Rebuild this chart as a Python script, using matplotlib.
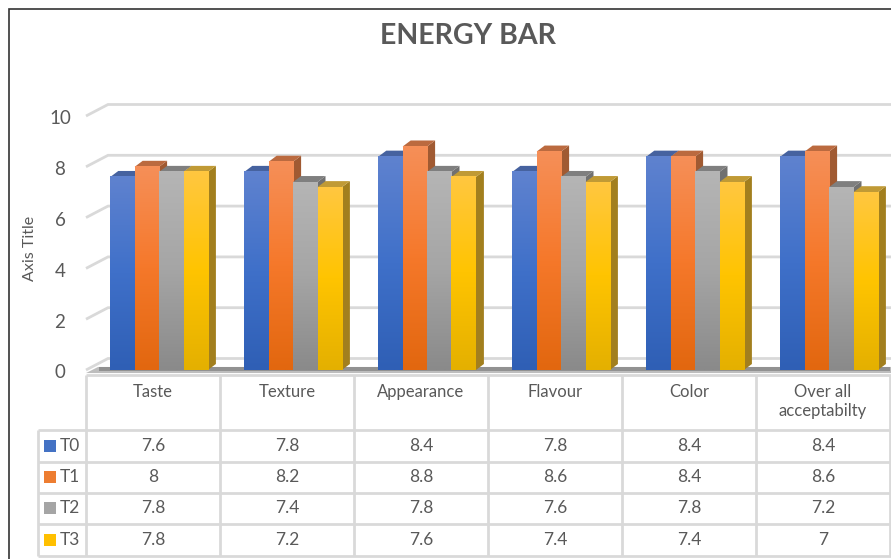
import matplotlib
matplotlib.use("Agg")
import matplotlib.pyplot as plt
import numpy as np
from matplotlib.colors import LinearSegmentedColormap
from matplotlib.patches import Polygon, Rectangle

plt.rcParams["font.family"] = ["Lato", "DejaVu Sans"]

CATEGORIES = ["Taste", "Texture", "Appearance", "Flavour", "Color", "Over all\nacceptabilty"]
SERIES_NAMES = ["T0", "T1", "T2", "T3"]
T0 = [7.6, 7.8, 8.4, 7.8, 8.4, 8.4]
T1 = [8, 8.2, 8.8, 8.6, 8.4, 8.6]
T2 = [7.8, 7.4, 7.8, 7.6, 7.8, 7.2]
T3 = [7.8, 7.2, 7.6, 7.4, 7.4, 7]
Y_TICKS = [0, 2, 4, 6, 8, 10]
TITLE = "ENERGY BAR"
Y_LABEL = "Axis Title"

# top, middle and bottom colours of each bar's front face
FRONT = [("#5f82cf", "#3f70c9", "#2f5fb5"),
         ("#f68f58", "#f5782a", "#e2670f"),
         ("#b5b5b5", "#a5a5a5", "#8a8a8a"),
         ("#ffc740", "#ffc400", "#e4b000")]
TOP = ["#46629f", "#bb6a3f", "#7f7f7f", "#c09a35"]
SIDE = ["#2d4f8e", "#a05a32", "#707070", "#a27f1e"]
KEY = ["#4472c4", "#ed7d31", "#a5a5a5", "#ffc000"]
GRID = "#d9d9d9"
TEXT = "#595959"

W, H = 891, 559
fig = plt.figure(figsize=(W / 100, H / 100), dpi=100, facecolor="white")

# Overlay spanning the figure, in pixel units, for frame, table and labels
page = fig.add_axes([0, 0, 1, 1], zorder=1)
page.set_xlim(0, W)
page.set_ylim(H, 0)
page.axis("off")
page.patch.set_alpha(0)

# Plot axes: front plane of the 3-D bars
X0, X1, Y0, Y10 = 86, 890, 370, 116
ax = fig.add_axes([X0 / W, 1 - Y0 / H, (X1 - X0) / W, (Y0 - Y10) / H], zorder=2)
ax.set_xlim(0, len(CATEGORIES))
ax.set_ylim(0, 10)
ax.axis("off")
ax.patch.set_alpha(0)

px_x = (X1 - X0) / len(CATEGORIES)
px_y = (Y0 - Y10) / 10
DX = 8 / px_x          # bar depth, category units
DY = 6 / px_y          # bar depth, value units
WALL_DX = 22 / px_x    # wall offset from the front plane
WALL_DY = 11.5 / px_y
BAR_W = 24.4 / px_x
GROUP_OFFSET = 24.3 / px_x

# Wall gridlines and their slanted floor-side continuation
for v in Y_TICKS:
    ax.plot([0, WALL_DX, 6.02], [v, v + WALL_DY, v + WALL_DY], color=GRID, lw=2,
            clip_on=False, solid_capstyle="butt", solid_joinstyle="miter", zorder=1)

# Floor shadow under the bars
ax.add_patch(Polygon([(0, -0.12), (WALL_DX * 0.55, 0.12), (6.02, 0.12), (6.02, -0.12)],
                     closed=True, fc="#bdbdbd", ec="none", clip_on=False, zorder=1.5))
ax.add_patch(Rectangle((0.1, -0.05), 5.9, 0.17, fc="#6e6e6e", ec="none", alpha=0.55,
                       clip_on=False, zorder=1.6))

values = [T0, T1, T2, T3]
z = 2.0
for g in range(len(CATEGORIES)):
    for s, series in enumerate(values):
        v = series[g]
        left = g + GROUP_OFFSET + s * BAR_W
        right = left + BAR_W
        cmap = LinearSegmentedColormap.from_list(f"f{s}", [FRONT[s][2], FRONT[s][1], FRONT[s][0]])
        z += 0.01
        ax.add_patch(Polygon([(right, 0), (right + DX, DY), (right + DX, v + DY), (right, v)],
                             closed=True, fc=SIDE[s], ec="none", clip_on=False, zorder=z))
        z += 0.01
        ax.add_patch(Polygon([(left, v), (left + DX, v + DY), (right + DX, v + DY), (right, v)],
                             closed=True, fc=TOP[s], ec="none", clip_on=False, zorder=z))
        z += 0.01
        # Colour ramp runs over the full axis height so that taller bars read alike
        ramp = np.linspace(1, 0, 128).reshape(-1, 1)
        ax.imshow(ramp, extent=(left, right, 0, v), cmap=cmap, vmin=0, vmax=1, aspect="auto",
                  interpolation="bilinear", zorder=z, clip_on=False)
ax.set_xlim(0, len(CATEGORIES))
ax.set_ylim(0, 10)

# Y tick labels and axis title
for v in Y_TICKS:
    page.text(60, Y0 + 3 - v * px_y, str(v), ha="center", va="center", fontsize=13.5, color=TEXT)
page.text(30, 248, Y_LABEL, rotation=90, ha="center", va="center", fontsize=11.5, color=TEXT)
page.text(468, 36, TITLE, ha="center", va="center", fontsize=20.5, fontweight="bold", color=TEXT)

# Data table below the plot
col_x = [X0 + i * px_x for i in range(len(CATEGORIES) + 1)]
row_y = [375, 430, 461.5, 492.5, 524, 556]
LEG_X = 38
page.plot([X0, W], [row_y[0], row_y[0]], color=GRID, lw=2, solid_capstyle="butt")
for y in row_y[1:]:
    page.plot([LEG_X, W], [y, y], color=GRID, lw=2, solid_capstyle="butt")
for i, x in enumerate(col_x):
    page.plot([x, x], [row_y[0], row_y[-1]], color=GRID, lw=2, solid_capstyle="butt")
page.plot([LEG_X, LEG_X], [row_y[1], row_y[-1]], color=GRID, lw=2, solid_capstyle="butt")

for i, name in enumerate(CATEGORIES):
    cx = (col_x[i] + col_x[i + 1]) / 2
    page.text(cx, 384, name, ha="center", va="top", fontsize=12, color=TEXT, linespacing=1.25)
for r, series in enumerate(values):
    cy = (row_y[r + 1] + row_y[r + 2]) / 2
    page.add_patch(Rectangle((44, cy - 6), 12, 12, fc=KEY[r], ec="none"))
    page.text(60, cy, SERIES_NAMES[r], ha="left", va="center", fontsize=12.5, color=TEXT)
    for i, v in enumerate(series):
        cx = (col_x[i] + col_x[i + 1]) / 2
        page.text(cx, cy, f"{v:g}", ha="center", va="center", fontsize=12.5, color=TEXT)

# Chart frame, open at right and bottom
page.plot([8.5, 8.5, W], [H, 9, 9], color="#333333", lw=1.2, solid_joinstyle="miter")

fig.savefig("out.png", dpi=100, facecolor="white")
